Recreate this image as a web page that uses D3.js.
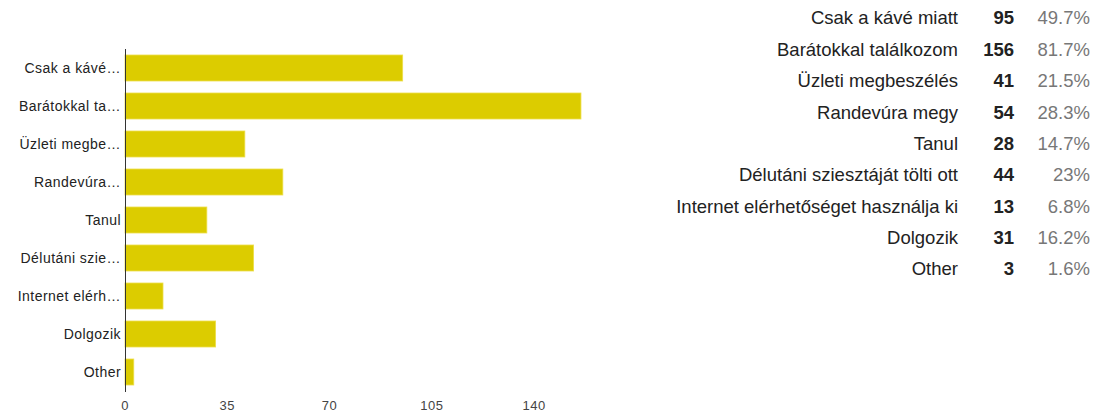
<!DOCTYPE html>
<html>
<head>
<meta charset="utf-8">
<script src="https://cdn.jsdelivr.net/npm/d3@7"></script>
<style>
  html, body { margin: 0; padding: 0; background: #fff; }
  svg { display: block; font-family: "Liberation Sans", Arial, sans-serif; }
</style>
</head>
<body>
<svg id="chart" width="1099" height="414"></svg>
<script>
// Survey answers: why people visit the café
const categories = [
  "Csak a kávé miatt",
  "Barátokkal találkozom",
  "Üzleti megbeszélés",
  "Randevúra megy",
  "Tanul",
  "Délutáni sziesztáját tölti ott",
  "Internet elérhetőséget használja ki",
  "Dolgozik",
  "Other"
];
const shortLabels = [
  "Csak a kávé…",
  "Barátokkal ta…",
  "Üzleti megbe…",
  "Randevúra…",
  "Tanul",
  "Délutáni szie…",
  "Internet elérh…",
  "Dolgozik",
  "Other"
];
const counts = [95, 156, 41, 54, 28, 44, 13, 31, 3];
const percents = ["49.7%", "81.7%", "21.5%", "28.3%", "14.7%", "23%", "6.8%", "16.2%", "1.6%"];
const xTicks = [0, 35, 70, 105, 140];

const svg = d3.select("#chart");

const x = d3.scaleLinear().domain([0, 35]).range([125, 227.3]);
const y = d3.scaleBand()
  .domain(categories)
  .range([49, 391])
  .paddingInner(0.316)
  .paddingOuter(0.158);

// bars
svg.append("g")
  .selectAll("rect")
  .data(categories)
  .join("rect")
  .attr("x", x(0))
  .attr("y", d => y(d))
  .attr("width", (d, i) => x(counts[i]) - x(0))
  .attr("height", y.bandwidth())
  .attr("fill", "#dccc00")
  .attr("stroke", "#eddf4a")
  .attr("stroke-width", 0.8);

// category labels (truncated)
svg.append("g")
  .selectAll("text")
  .data(categories)
  .join("text")
  .attr("x", 121)
  .attr("y", d => y(d) + y.bandwidth() / 2)
  .attr("dy", "0.35em")
  .attr("text-anchor", "end")
  .attr("font-size", 14)
  .attr("letter-spacing", 0.45)
  .attr("fill", "#222")
  .text((d, i) => shortLabels[i]);

// vertical baseline
svg.append("line")
  .attr("x1", x(0) + 0.5).attr("x2", x(0) + 0.5)
  .attr("y1", 49).attr("y2", 392)
  .attr("stroke", "#333")
  .attr("stroke-width", 1);

// x tick labels
svg.append("g")
  .selectAll("text")
  .data(xTicks)
  .join("text")
  .attr("x", d => x(d))
  .attr("y", 410)
  .attr("text-anchor", "middle")
  .attr("font-size", 13)
  .attr("letter-spacing", 0.5)
  .attr("fill", "#444")
  .text(d => d);

// summary table
const rowY = d3.scaleLinear().domain([0, 8]).range([18, 269]);
const rows = svg.append("g")
  .selectAll("g")
  .data(categories)
  .join("g")
  .attr("transform", (d, i) => `translate(0,${rowY(i)})`);

rows.append("text")
  .attr("x", 958)
  .attr("dy", "0.35em")
  .attr("text-anchor", "end")
  .attr("font-size", 18.5)
  .attr("fill", "#222")
  .text(d => d);

rows.append("text")
  .attr("x", 1014)
  .attr("dy", "0.35em")
  .attr("text-anchor", "end")
  .attr("font-size", 18.5)
  .attr("font-weight", "bold")
  .attr("fill", "#222")
  .text((d, i) => counts[i]);

rows.append("text")
  .attr("x", 1090)
  .attr("dy", "0.35em")
  .attr("text-anchor", "end")
  .attr("font-size", 18.5)
  .attr("fill", "#777")
  .text((d, i) => percents[i]);
</script>
</body>
</html>
